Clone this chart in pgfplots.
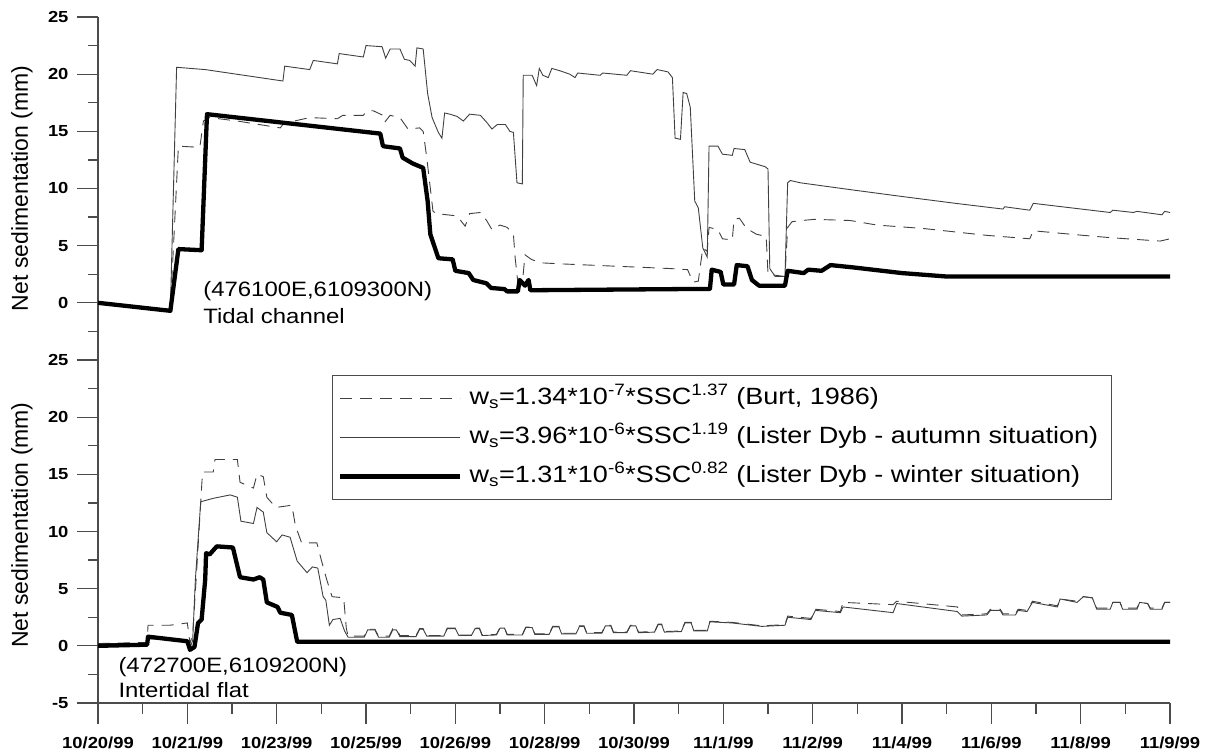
\documentclass[border=0pt]{standalone}
\usepackage{pgfplots}
\pgfplotsset{compat=1.18}
\usepackage{fontspec}
\setmainfont{Liberation Sans}[FakeStretch=1.15]
\newfontfamily\labelfont{Liberation Sans}
\definecolor{axisgray}{gray}{0.3}
\definecolor{linegray}{gray}{0.25}
\pgfplotsset{
  myaxis/.style={
    scale only axis, width=1072pt, xmin=0, xmax=12,
    axis y line*=left,
    axis line style={axisgray, line width=1.2pt, -},
    every tick/.style={axisgray, line width=1.2pt},
    major tick length=21pt, minor tick length=10.5pt,
    tick align=outside,
    /pgf/number format/assume math mode=true,
    tick label style={font=\fontsize{16}{16}\selectfont\bfseries},
    yticklabel style={xshift=-5pt},
    xticklabel style={yshift=-9pt},
    clip=false,
  },
  burt/.style={linegray, line width=0.9pt, dash pattern=on 12pt off 8pt},
  autumn/.style={linegray, line width=0.9pt},
  winter/.style={black, line width=4.3pt, line join=round},
}
\begin{document}
\begin{tikzpicture}[x=1pt,y=1pt]
\path[use as bounding box] (0,0) rectangle (1212,753);
% ---------------- top panel: tidal channel ----------------
\begin{axis}[myaxis, at={(98pt,421.6pt)}, anchor=south west, height=314.4pt,
  axis x line=none, ymin=-2.5, ymax=25,
  ytick={0,5,...,25}, minor ytick={-2.5,2.5,...,22.5},
  ylabel={Net sedimentation (mm)},
  ylabel style={font=\labelfont\fontsize{23}{23}\selectfont, at={(axis description cs:-0.0709,0.455)}, anchor=center},
]
\addplot[burt] coordinates {
(0,0) (0.81,-0.6) (0.90,13.7) (1.14,13.6) (1.18,15.9) (1.25,16.2) (1.56,15.9) (2.04,15.3) (2.08,15.7)
(2.37,16.2) (2.68,16.1) (2.74,16.4) (2.97,16.4) (3.01,16.8) (3.08,16.8) (3.19,16.4) (3.21,15.8) (3.27,16.4)
(3.38,16.2) (3.47,15.2) (3.60,15.3) (3.64,15.0) (3.68,12.7) (3.75,8.0) (3.79,7.8) (4.02,7.6) (4.11,6.7)
(4.16,7.8) (4.28,7.9) (4.35,7.2) (4.41,6.4) (4.50,6.8) (4.58,6.6) (4.65,6.0) (4.67,3.9) (4.70,1.8) (4.75,1.7)
(4.78,4.2) (4.85,3.8) (4.95,3.5) (5.2,3.4) (5.5,3.3) (5.8,3.2) (6.1,3.1) (6.4,3.0) (6.6,2.9) (6.66,1.8)
(6.72,1.9) (6.77,4.8) (6.82,4.5) (6.84,6.6) (6.94,6.4) (6.99,5.6) (7.10,5.5) (7.12,7.3) (7.18,7.4) (7.26,6.5)
(7.37,6.0) (7.48,5.8) (7.50,2.5) (7.69,2.3) (7.72,6.6) (7.77,7.1) (7.88,7.2) (8.02,7.3) (8.42,7.2) (8.72,6.8)
(9.24,6.5) (9.95,5.9) (10.43,5.6) (10.47,6.3) (11.03,5.9) (11.33,5.7) (11.89,5.4) (12.0,5.6)};
\addplot[autumn] coordinates {
(0,0) (0.81,-0.6) (0.88,20.6) (1.20,20.4) (2.07,19.4) (2.09,20.7) (2.37,20.4) (2.41,21.2) (2.68,20.9)
(2.70,21.8) (2.97,21.5) (3.00,22.5) (3.18,22.4) (3.22,21.4) (3.27,22.2) (3.38,22.2) (3.43,21.3) (3.49,21.2)
(3.55,20.7) (3.57,22.3) (3.64,22.2) (3.69,18.3) (3.74,16.2) (3.81,14.9) (3.85,14.4) (3.88,16.6) (3.94,16.5)
(4.02,16.3) (4.09,15.9) (4.16,16.5) (4.28,16.4) (4.35,15.8) (4.41,15.2) (4.47,15.6) (4.56,15.6) (4.61,15.0)
(4.65,14.9) (4.69,10.5) (4.75,10.4) (4.76,19.9) (4.86,19.9) (4.91,19.0) (4.94,20.5) (4.98,19.9) (5.04,19.7)
(5.08,20.5) (5.17,20.3) (5.28,20.0) (5.34,19.7) (5.37,20.1) (5.62,19.9) (5.65,20.1) (5.92,19.9) (5.96,20.3)
(6.21,20.0) (6.26,20.4) (6.38,20.2) (6.43,19.7) (6.46,14.4) (6.52,14.3) (6.55,18.4) (6.59,18.3) (6.63,17.1)
(6.68,8.9) (6.72,8.3) (6.77,4.8) (6.82,4.0) (6.84,13.7) (6.94,13.7) (6.99,13.0) (7.10,12.9) (7.12,13.5)
(7.24,13.4) (7.30,12.3) (7.47,11.9) (7.50,11.7) (7.52,3.0) (7.58,2.3) (7.69,2.3) (7.72,10.5) (7.75,10.7)
(7.86,10.5) (8.42,9.9) (9.0,9.3) (9.6,8.7) (10.13,8.2) (10.15,8.4) (10.43,8.1) (10.47,8.7) (11.33,7.9)
(11.36,8.1) (11.59,7.9) (11.63,8.0) (11.91,7.7) (11.94,8.0) (12.0,7.9)};
\addplot[winter] coordinates {
(0,0) (0.81,-0.7) (0.90,4.7) (1.16,4.6) (1.22,16.5) (3.16,14.8) (3.19,13.7) (3.38,13.5) (3.41,12.7)
(3.52,12.2) (3.64,11.8) (3.69,8.9) (3.72,6.0) (3.81,3.9) (3.97,3.8) (4.00,2.8) (4.15,2.6) (4.20,2.0)
(4.35,1.7) (4.40,1.3) (4.55,1.2) (4.58,1.0) (4.70,1.0) (4.72,2.0) (4.78,1.5) (4.82,2.0) (4.84,1.1)
(6.5,1.2) (6.85,1.2) (6.87,2.9) (6.97,2.7) (7.00,1.6) (7.12,1.6) (7.15,3.3) (7.27,3.2) (7.32,2.0)
(7.40,1.5) (7.69,1.5) (7.72,2.8) (7.90,2.6) (7.95,2.9) (8.10,2.8) (8.20,3.3) (8.45,3.1) (9.0,2.6)
(9.5,2.3) (12,2.3)};
\node[anchor=base west, font=\fontsize{20.8}{20.8}\selectfont] at (axis cs:1.14,0.52) {(476100E,6109300N)};
\node[anchor=base west, font=\fontsize{20.8}{20.8}\selectfont] at (axis cs:1.14,-1.84) {Tidal channel};
\end{axis}
% ---------------- bottom panel: intertidal flat ----------------
\begin{axis}[myaxis, at={(98pt,50pt)}, anchor=south west, height=371.6pt,
  axis x line*=bottom, ymin=-5, ymax=27.5,
  ytick={-5,0,...,25}, minor ytick={-2.5,2.5,...,22.5},
  xtick={0,...,12},
  xticklabels={10/20/99,10/21/99,10/23/99,10/25/99,10/26/99,10/28/99,10/30/99,11/1/99,11/2/99,11/4/99,11/6/99,11/8/99,11/9/99},
  minor xtick={0.5,1.5,...,11.5},
  ylabel={Net sedimentation (mm)},
  ylabel style={font=\labelfont\fontsize{23}{23}\selectfont, at={(axis description cs:-0.0709,0.479)}, anchor=center},
  legend style={at={(rel axis cs:0.218,0.883)}, anchor=north west, draw=axisgray, line width=1.2pt,
    font=\fontsize{23.5}{23.5}\selectfont, inner xsep=6pt, inner ysep=11pt, row sep=15pt,
    nodes={text height=18pt, text depth=6pt, inner ysep=0pt, inner xsep=7pt}},
  legend cell align=left,
  legend image code/.code={\draw[#1] (0pt,0pt) -- (120pt,0pt);},
]
\addplot[burt] coordinates {
(0,0.2) (0.55,0.3) (0.56,1.8) (0.8,1.8) (1.00,2.0) (1.03,0.2) (1.06,1.0) (1.10,6.0) (1.17,15.2) (1.29,15.2)
(1.31,16.3) (1.56,16.3) (1.59,14.3) (1.74,13.8) (1.78,15.0) (1.85,14.8) (1.89,13.0) (1.99,12.1) (2.17,12.3)
(2.21,10.5) (2.28,9.0) (2.45,9.0) (2.50,7.5) (2.56,5.8) (2.62,4.3) (2.75,4.2) (2.78,1.5) (2.80,0.85)
(2.98,0.85) (3.02,1.45) (3.10,1.45) (3.14,0.85) (3.26,0.85) (3.30,1.5) (3.34,1.5) (3.38,0.9)
(3.56,0.9) (3.60,1.5) (3.64,1.5) (3.68,0.9) (3.87,0.9) (3.91,1.55) (4.00,1.55) (4.04,0.95)
(4.18,0.95) (4.22,1.55) (4.27,1.55) (4.30,0.95) (4.46,1.0) (4.50,1.6) (4.55,1.6) (4.58,1.0)
(4.75,1.0) (4.79,1.65) (4.86,1.65) (4.89,1.05) (5.05,1.05) (5.09,1.7) (5.16,1.7) (5.19,1.1)
(5.35,1.1) (5.39,1.75) (5.44,1.75) (5.47,1.15) (5.64,1.15) (5.68,1.8) (5.74,1.8) (5.77,1.2)
(5.92,1.2) (5.96,1.8) (6.02,1.8) (6.05,1.2) (6.23,1.25) (6.27,1.9) (6.31,1.9) (6.34,1.25)
(6.53,1.3) (6.57,2.05) (6.64,2.05) (6.67,1.35) (6.82,1.35) (6.85,2.15) (7.10,2.05) (7.43,1.75)
(7.69,1.85) (7.72,2.6) (7.98,2.4) (8.03,3.2) (8.31,3.0) (8.34,3.8) (8.90,3.6) (8.94,3.9) (9.62,3.4)
(9.67,2.7) (9.95,2.8) (9.99,3.2) (10.10,3.2) (10.13,2.8) (10.27,2.8) (10.30,3.2) (10.40,3.1) (10.46,3.9)
(10.74,3.5) (10.77,4.1) (10.96,3.9) (11.03,4.3) (11.13,4.2) (11.18,3.3) (11.33,3.3) (11.36,3.8)
(11.44,3.8) (11.47,3.3) (11.63,3.3) (11.66,3.8) (11.75,3.7) (11.78,3.3) (11.91,3.3) (11.94,3.8) (12,3.8)};
\addlegendentry{w\textsubscript{s}=1.34*10\textsuperscript{-7}*SSC\textsuperscript{1.37} (Burt, 1986)}
\addplot[autumn] coordinates {
(0,0.2) (0.55,0.2) (0.57,0.6) (0.8,0.6) (1.00,0.4) (1.03,-0.2) (1.06,0.5) (1.09,5.8) (1.15,12.6)
(1.29,12.9) (1.48,13.2) (1.56,13.0) (1.60,10.9) (1.74,10.7) (1.78,12.1) (1.85,11.7) (1.89,9.9) (2.00,9.1)
(2.06,9.7) (2.15,9.5) (2.23,7.4) (2.34,6.4) (2.40,6.9) (2.46,6.8) (2.52,4.3) (2.55,4.0) (2.59,1.8)
(2.63,2.3) (2.71,2.4) (2.76,1.3) (2.80,0.75)
(2.98,0.75) (3.02,1.4) (3.10,1.4) (3.14,0.75) (3.26,0.75) (3.30,1.4) (3.34,1.4) (3.38,0.8)
(3.56,0.8) (3.60,1.45) (3.64,1.45) (3.68,0.85) (3.87,0.85) (3.91,1.5) (4.00,1.5) (4.04,0.9)
(4.18,0.9) (4.22,1.5) (4.27,1.5) (4.30,0.9) (4.46,0.95) (4.50,1.55) (4.55,1.55) (4.58,0.95)
(4.75,0.95) (4.79,1.6) (4.86,1.6) (4.89,1.0) (5.05,1.0) (5.09,1.65) (5.16,1.65) (5.19,1.05)
(5.35,1.05) (5.39,1.7) (5.44,1.7) (5.47,1.1) (5.64,1.1) (5.68,1.75) (5.74,1.75) (5.77,1.15)
(5.92,1.15) (5.96,1.75) (6.02,1.75) (6.05,1.15) (6.23,1.2) (6.27,1.85) (6.31,1.85) (6.34,1.2)
(6.53,1.25) (6.57,2.0) (6.64,2.0) (6.67,1.3) (6.82,1.3) (6.85,2.1) (7.10,2.0) (7.43,1.7)
(7.69,1.8) (7.72,2.5) (7.98,2.3) (8.03,3.1) (8.31,2.9) (8.34,3.4) (8.90,2.9) (8.94,3.7) (9.62,3.0)
(9.67,2.6) (9.95,2.7) (9.99,3.1) (10.10,3.1) (10.13,2.7) (10.27,2.7) (10.30,3.1) (10.40,3.0) (10.46,3.8)
(10.74,3.4) (10.77,4.1) (10.96,3.8) (11.03,4.3) (11.13,4.2) (11.18,3.2) (11.33,3.2) (11.36,3.8)
(11.44,3.8) (11.47,3.2) (11.63,3.2) (11.66,3.8) (11.75,3.7) (11.78,3.2) (11.91,3.2) (11.94,3.8) (12,3.8)};
\addlegendentry{w\textsubscript{s}=3.96*10\textsuperscript{-6}*SSC\textsuperscript{1.19} (Lister Dyb - autumn situation)}
\addplot[winter] coordinates {
(0,0) (0.55,0.1) (0.56,0.8) (1.00,0.4) (1.03,-0.35) (1.08,-0.1) (1.12,2.0) (1.16,2.3) (1.20,5.8)
(1.21,8.1) (1.25,8.0) (1.33,8.7) (1.51,8.6) (1.59,6.0) (1.74,5.8) (1.81,6.0) (1.85,5.8) (1.89,3.8)
(2.01,3.4) (2.04,2.9) (2.17,2.7) (2.23,0.35) (12,0.35)};
\addlegendentry{w\textsubscript{s}=1.31*10\textsuperscript{-6}*SSC\textsuperscript{0.82} (Lister Dyb - winter situation)}
\node[anchor=base west, font=\fontsize{20.8}{20.8}\selectfont] at (axis cs:0.19,-2.36) {(472700E,6109200N)};
\node[anchor=base west, font=\fontsize{20.8}{20.8}\selectfont] at (axis cs:0.19,-4.55) {Intertidal flat};
\end{axis}
\end{tikzpicture}
\end{document}
